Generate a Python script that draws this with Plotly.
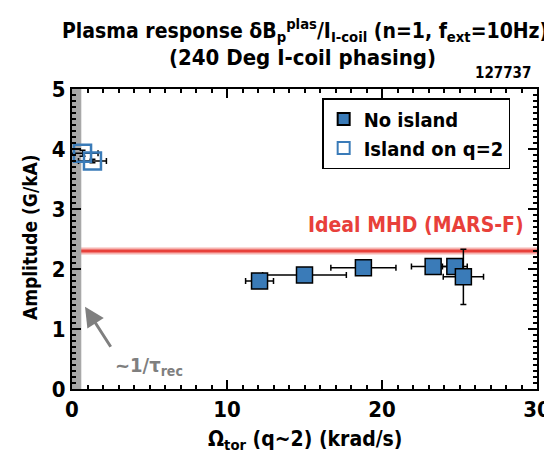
import plotly.graph_objects as go

# Data
no_island_x = [12.1, 15.0, 18.8, 23.3, 24.7, 25.25]
no_island_y = [1.80, 1.90, 2.02, 2.04, 2.04, 1.87]
no_island_xerr = [0.9, 2.7, 2.1, 1.4, 0.8, 1.3]
no_island_yerr = [0.05, 0.04, 0.07, 0.07, 0.05, 0.46]

island_x = [0.68, 1.32]
island_y = [3.93, 3.80]
island_xerr = [1.0, 0.9]
island_yerr = [0.05, 0.03]

mhd_value = 2.3
rec_band = [0.0, 0.6]

FONT = "DejaVu Sans Condensed"
BLUE = "#3a7bb8"
RED = "#e8403a"

fig = go.Figure()

fig.add_shape(type="rect", xref="x", yref="y", x0=rec_band[0], x1=rec_band[1], y0=0, y1=5,
              fillcolor="#a8a8a8", line=dict(width=0), layer="below")

fig.add_trace(go.Scatter(
    x=no_island_x, y=no_island_y, mode="markers", name="<b>No island</b>",
    marker=dict(symbol="square", size=16, color=BLUE, line=dict(color="black", width=1.5)),
    error_x=dict(type="data", array=no_island_xerr, color="black", thickness=1.5, width=3),
    error_y=dict(type="data", array=no_island_yerr, color="black", thickness=1.5, width=3),
))
fig.add_trace(go.Scatter(
    x=island_x, y=island_y, mode="markers", name="<b>Island on q=2</b>",
    marker=dict(symbol="square-open", size=17, color=BLUE, line=dict(color=BLUE, width=2.5)),
    error_x=dict(type="data", array=island_xerr, color="black", thickness=1.5, width=3),
    error_y=dict(type="data", array=island_yerr, color="black", thickness=1.5, width=3),
))

fig.add_shape(type="rect", xref="paper", yref="y", x0=0, x1=1, y0=mhd_value - 0.06, y1=mhd_value + 0.06,
              fillcolor="#f6b5b2", line=dict(width=0), layer="below")
fig.add_shape(type="line", xref="paper", yref="y", x0=0, x1=1, y0=mhd_value, y1=mhd_value,
              line=dict(color=RED, width=3), layer="below")

def ann(x, y, text, size, color="black", xref="paper", yref="paper", **kw):
    fig.add_annotation(x=x, y=y, xref=xref, yref=yref, text=text, showarrow=False,
                       xanchor=kw.pop("xanchor", "center"), yanchor=kw.pop("yanchor", "middle"),
                       font=dict(family=FONT, size=size, color=color), **kw)

ann(22.2, 2.73, "<b>Ideal MHD (MARS-F)</b>", 21, RED, xref="x", yref="y")

fig.add_annotation(x=0.84, y=1.37, ax=2.56, ay=0.68, xref="x", yref="y", axref="x", ayref="y",
                   text="", showarrow=True, arrowhead=2, arrowsize=1.3, arrowwidth=3, arrowcolor="#7f7f7f")
ann(4.97, 0.38, "<b>~1/τ<sub>rec</sub></b>", 20, "#7f7f7f", xref="x", yref="y")

ann(0.50, 1.195, "<b>Plasma response δB<sub>p</sub><sup>plas</sup>/I<sub>I-coil</sub> (n=1, f<sub>ext</sub>=10Hz)</b>", 21)
ann(0.495, 1.105, "<b>(240 Deg I-coil phasing)</b>", 22)
ann(0.991, 1.053, "<b>127737</b>", 15, xanchor="right")
ann(-0.09, 0.507, "<b>Amplitude (G/kA)</b>", 19, textangle=-90)
ann(0.501, -0.17, "<b>Ω<sub>tor</sub> (q~2) (krad/s)</b>", 21)

common = dict(ticks="inside", ticklen=9, tickwidth=2, tickcolor="black",
              showline=True, linecolor="black", linewidth=2, mirror="allticks",
              showgrid=False, zeroline=False,
              tickfont=dict(family=FONT, size=22, color="black"))
fig.update_xaxes(range=[0, 30], tickvals=[0, 10, 20, 30], ticktext=["<b>0</b>", "<b>10</b>", "<b>20</b>", "<b>30</b>"],
                 minor=dict(dtick=1, ticks="inside", ticklen=4, tickwidth=1.5, tickcolor="black"), **common)
fig.update_yaxes(range=[0, 5], tickvals=[0, 1, 2, 3, 4, 5], ticktext=["<b>%d</b>" % v for v in range(6)],
                 minor=dict(dtick=0.1, ticks="inside", ticklen=4, tickwidth=1.5, tickcolor="black"), **common)

fig.update_layout(
    width=552, height=455,
    margin=dict(l=64, r=23, t=81, b=74, autoexpand=False),
    paper_bgcolor="white", plot_bgcolor="white",
    showlegend=True,
    legend=dict(x=0.538, y=0.97, xanchor="left", yanchor="top",
                bordercolor="black", borderwidth=1.5, bgcolor="white",
                font=dict(family=FONT, size=20, color="black"),
                tracegroupgap=0, itemsizing="constant"),
)

fig.write_html("out.html")
